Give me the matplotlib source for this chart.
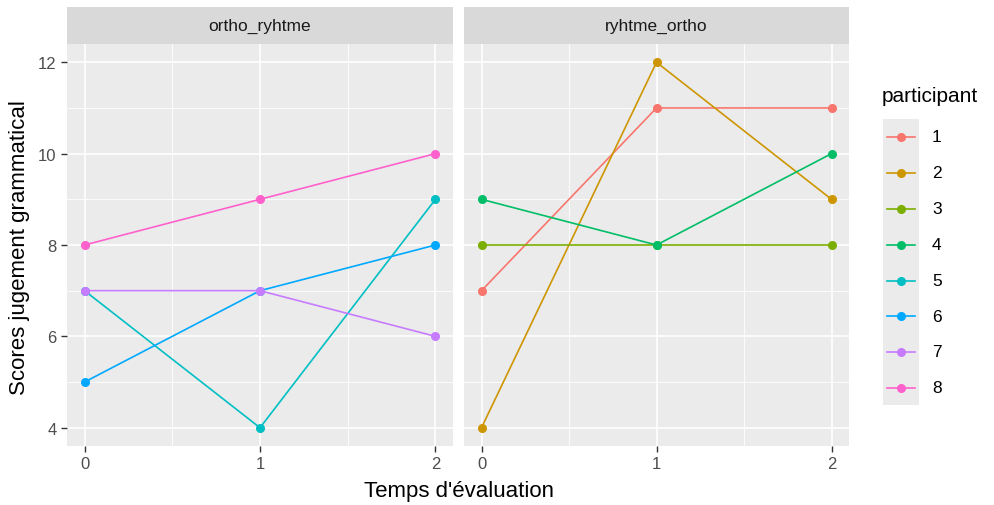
import matplotlib
matplotlib.use("Agg")
import matplotlib.pyplot as plt

plt.rcParams['font.family'] = ['Liberation Sans', 'DejaVu Sans']

times = [0, 1, 2]
panels = ["ortho_ryhtme", "ryhtme_ortho"]
participants = ["1", "2", "3", "4", "5", "6", "7", "8"]
colors = ["#F8766D", "#CD9600", "#7CAE00", "#00BE67", "#00BFC4", "#00A9FF", "#C77CFF", "#FF61CC"]

# scores per participant across times
p1 = [7, 11, 11]
p2 = [4, 12, 9]
p3 = [8, 8, 8]
p4 = [9, 8, 10]
p5 = [7, 4, 9]
p6 = [5, 7, 8]
p7 = [7, 7, 6]
p8 = [8, 9, 10]
scores = [p1, p2, p3, p4, p5, p6, p7, p8]
panel_of = ["ryhtme_ortho"] * 4 + ["ortho_ryhtme"] * 4

yticks = [4, 6, 8, 10, 12]
yminor = [5, 7, 9, 11]
xticks = [0, 1, 2]
xminor = [0.5, 1.5]

W, H = 994, 506
fig = plt.figure(figsize=(W / 100, H / 100), dpi=100)

def px(x0, y0, x1, y1):
    return [x0 / W, 1 - y1 / H, (x1 - x0) / W, (y1 - y0) / H]

panel_px = [(67, 453), (464, 849)]
top, bottom = 45, 447
strip_top = 8
grey_txt = "#4D4D4D"

for pi, (name, (x0, x1)) in enumerate(zip(panels, panel_px)):
    ax = fig.add_axes(px(x0, top, x1, bottom))
    ax.set_facecolor("#EBEBEB")
    ax.set_xlim(-0.1, 2.1)
    ax.set_ylim(3.6, 12.4)
    for v in yminor:
        ax.axhline(v, color="white", lw=0.6, zorder=0)
    for v in xminor:
        ax.axvline(v, color="white", lw=0.6, zorder=0)
    for v in yticks:
        ax.axhline(v, color="white", lw=1.2, zorder=0)
    for v in xticks:
        ax.axvline(v, color="white", lw=1.2, zorder=0)
    for s in ax.spines.values():
        s.set_visible(False)
    for i, p in enumerate(participants):
        if panel_of[i] == name:
            ax.plot(times, scores[i], color=colors[i], lw=1.2, marker="o",
                    markersize=5.5, zorder=3)
    ax.set_xticks(xticks)
    ax.set_xticklabels([str(t) for t in xticks])
    ax.set_yticks(yticks)
    ax.tick_params(axis="both", colors="#333333", labelcolor=grey_txt,
                   labelsize=12, length=4, width=1)
    ax.tick_params(axis="x", pad=3)
    if pi == 0:
        ax.set_yticklabels([str(t) for t in yticks])
    else:
        ax.tick_params(axis="y", left=False, labelleft=False)
    # strip
    sax = fig.add_axes(px(x0, strip_top, x1, top))
    sax.set_facecolor("#D9D9D9")
    sax.set_xticks([]); sax.set_yticks([])
    for s in sax.spines.values():
        s.set_visible(False)
    sax.text(0.5, 0.5, name, ha="center", va="center", fontsize=12.5,
             color="#1A1A1A", transform=sax.transAxes)

fig.text(459 / W, 1 - 492 / H, "Temps d'évaluation", ha="center", va="center",
         fontsize=16, color="black")
fig.text(20 / W, 1 - 248 / H, "Scores jugement grammatical", ha="center",
         va="center", rotation=90, fontsize=16, color="black")

# legend
fig.text(882 / W, 1 - 97 / H, "participant", ha="left", va="center",
         fontsize=15, color="black")
lax = fig.add_axes(px(883, 120, 919, 406))
lax.set_xlim(0, 1)
lax.set_ylim(406, 120)
lax.set_facecolor("#EBEBEB")
lax.set_xticks([]); lax.set_yticks([])
for s in lax.spines.values():
    s.set_visible(False)
leg_y = [138, 174, 210, 246, 282, 317, 353, 389]
for i, p in enumerate(participants):
    lax.plot([0.1, 0.9], [leg_y[i], leg_y[i]], color=colors[i], lw=1.2)
    lax.plot([0.5], [leg_y[i]], marker="o", color=colors[i], markersize=5.5)
    fig.text(932 / W, 1 - leg_y[i] / H, p, ha="left", va="center",
             fontsize=12.5, color="black")

fig.savefig("out.png", dpi=100)
